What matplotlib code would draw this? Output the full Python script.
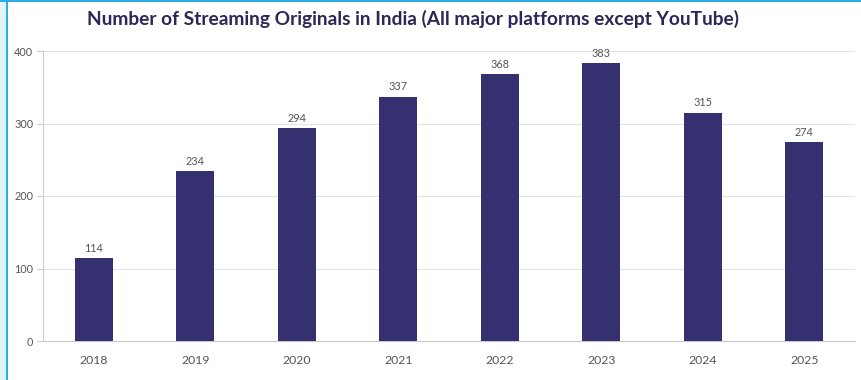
import matplotlib.pyplot as plt
from matplotlib.patches import Rectangle

# Data
years = ["2018", "2019", "2020", "2021", "2022", "2023", "2024", "2025"]
originals = [114, 234, 294, 337, 368, 383, 315, 274]
y_ticks = [0, 100, 200, 300, 400]

BAR_COLOR = "#35306f"
TITLE_COLOR = "#2b2858"
TEXT_COLOR = "#555555"

plt.rcParams["font.family"] = ["Lato", "DejaVu Sans"]

fig = plt.figure(figsize=(8.61, 3.80), dpi=100)
fig.patch.set_facecolor("white")

# Light blue frame on left and top
fig.patches.append(Rectangle((0, 0), 6 / 861, 1, transform=fig.transFigure,
                             facecolor="#e3f3fa", edgecolor="none", zorder=0))
fig.patches.append(Rectangle((6 / 861, 0), 2 / 861, 1, transform=fig.transFigure,
                             facecolor="#29aee6", edgecolor="none", zorder=1))
fig.patches.append(Rectangle((0, 1 - 2 / 380), 1, 2 / 380, transform=fig.transFigure,
                             facecolor="#29aee6", edgecolor="none", zorder=1))

ax = fig.add_axes([43 / 861, (380 - 341) / 380, (855 - 43) / 861, (341 - 51) / 380])

x = range(len(years))
bars = ax.bar(x, originals, width=0.375, color=BAR_COLOR, zorder=3)

for xi, v in zip(x, originals):
    ax.text(xi, v + 6, str(v), ha="center", va="bottom", fontsize=7.8,
            color=TEXT_COLOR)

ax.set_xlim(-0.5, len(years) - 0.5)
ax.set_ylim(0, 400)
ax.set_yticks(y_ticks)
ax.set_xticks(list(x))
ax.set_xticklabels(years)
ax.tick_params(axis="x", length=0, pad=10, labelsize=8.8, labelcolor=TEXT_COLOR)
ax.tick_params(axis="y", length=4, width=0.8, color="#cccccc", pad=3,
               labelsize=7.8, labelcolor=TEXT_COLOR)

ax.grid(axis="y", color="#e2e2e2", linewidth=0.8, zorder=0)
for side in ["top", "right"]:
    ax.spines[side].set_visible(False)
ax.spines["left"].set_color("#cccccc")
ax.spines["left"].set_linewidth(0.8)
ax.spines["bottom"].set_color("#c8c8c8")
ax.spines["bottom"].set_linewidth(0.8)

fig.text(413 / 861, 1 - 19 / 380, "Number of Streaming Originals in India (All major platforms except YouTube)",
         ha="center", va="center", fontsize=13.8, fontweight="bold", color=TITLE_COLOR)

fig.savefig("out.png", dpi=100)
